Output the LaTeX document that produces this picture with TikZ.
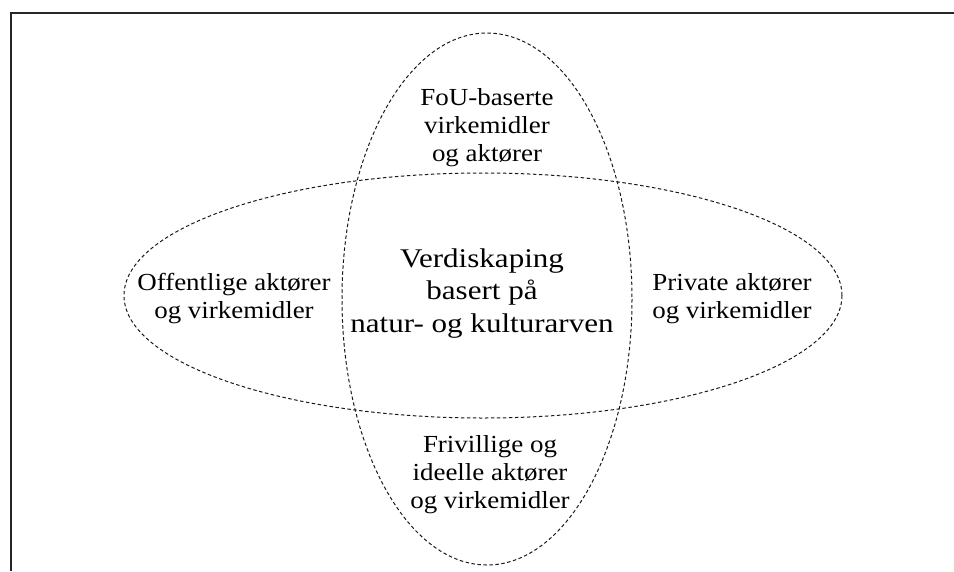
\documentclass[tikz,border=0pt]{standalone}
\usepackage{fontspec}
\setmainfont[FakeStretch=1.1]{Liberation Serif}
\newfontfamily\centerfont[FakeStretch=1.15]{Liberation Serif}
\begin{document}
\begin{tikzpicture}[x=1pt,y=-1pt,
  ring/.style={draw=black!90, dash pattern=on 3.5pt off 2.5pt, line width=1pt},
  sidetext/.style={align=center, inner sep=0pt, font=\fontsize{24.5}{28}\selectfont},
  maintext/.style={align=center, inner sep=0pt, font=\centerfont\fontsize{27}{32.5}\selectfont}]
\useasboundingbox (0,0) rectangle (954,571);
\coordinate (tl) at (11,13);
\coordinate (tr) at (954,13);
\coordinate (bl) at (11,571);
\draw[line width=1.6pt, black!85] (tr) -- (tl) -- (bl);
\draw[ring] (487,299) ellipse [x radius=145, y radius=266];
\draw[ring] (483,295.5) ellipse [x radius=359, y radius=122.5];
\node[sidetext] (fou) at (487,128) {FoU-baserte\\virkemidler\\og aktører};
\node[sidetext] (off) at (234,298.5) {Offentlige aktører\\og virkemidler};
\node[sidetext] (priv) at (732,298.5) {Private aktører\\og virkemidler};
\node[sidetext] (friv) at (490,475) {Frivillige og\\ideelle aktører\\og virkemidler};
\node[maintext] (mid) at (482,293.5) {Verdiskaping\\basert på\\natur- og kulturarven};
\end{tikzpicture}
\end{document}
